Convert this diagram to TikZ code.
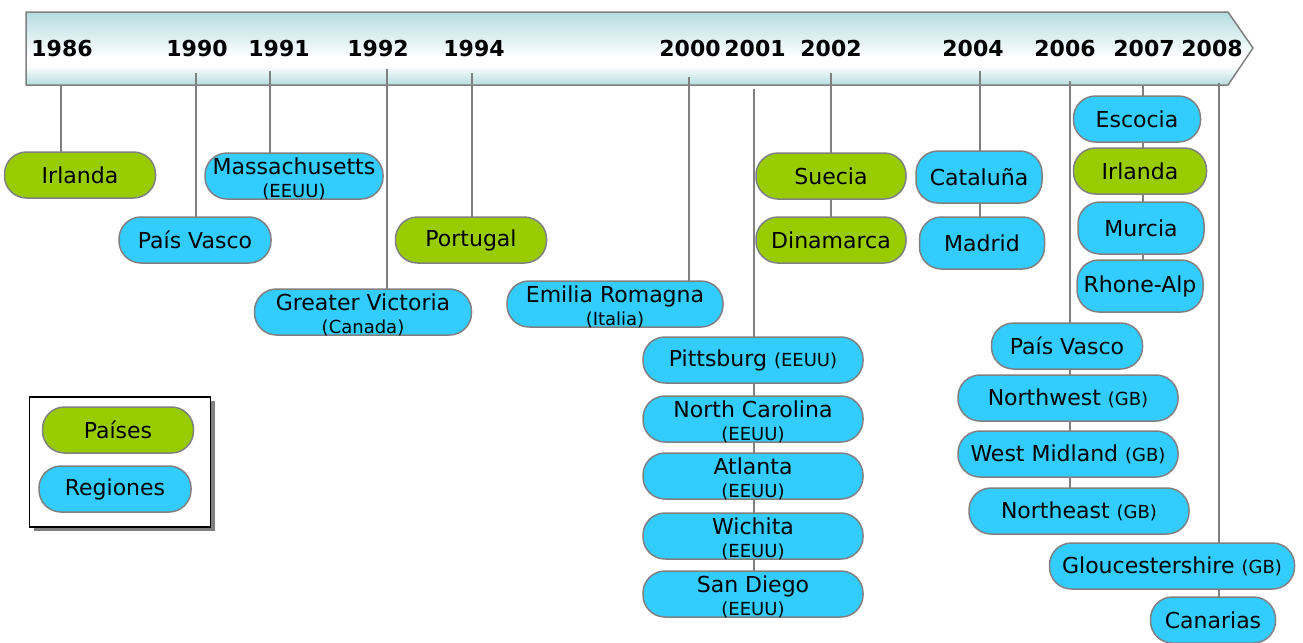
\documentclass[tikz,border=0pt]{standalone}
\usepackage{fontspec}
\setmainfont{DejaVu Sans}
\usetikzlibrary{shadows}
\pgfdeclarelayer{background}
\pgfsetlayers{background,main}
\definecolor{verdepais}{HTML}{99CC00}
\definecolor{azulregion}{HTML}{33CCFF}
\definecolor{gris}{HTML}{808080}
\definecolor{barteal}{HTML}{B5DCE0}
\pgfdeclareverticalshading{barshading}{100bp}{color(0bp)=(barteal); color(25bp)=(barteal); color(38bp)=(white); color(44bp)=(white); color(75bp)=(barteal); color(100bp)=(barteal)}
\newcommand{\pequeno}[1]{{\fontsize{9}{10}\selectfont #1}}

\begin{document}
\begin{tikzpicture}[x=0.5pt,y=-0.5pt,
    year/.style={font=\bfseries\fontsize{11}{13}\selectfont},
    caja/.style={rectangle, rounded corners=11pt, draw=gris, line width=0.75pt, minimum height=23pt, inner xsep=0pt, inner ysep=0pt, align=center, font=\fontsize{11}{12}\selectfont},
    pais/.style={caja, fill=verdepais},
    region/.style={caja, fill=azulregion},
    doble/.style={text height=21pt, text depth=0pt},
    ancho/.style={minimum width=#1*0.5pt},
    enlace/.style={draw=gris, line width=0.75pt}]
    \useasboundingbox (0,0) rectangle (1303,643);
    %\draw[very thin,color=gray] (0,0) grid[step=100] (1303,643);
    \begin{pgfonlayer}{background}
    \shade[shading=barshading, draw=gris, line width=0.75pt] (26,12) -- (1228,12) -- (1253,48) -- (1228,85) -- (26,85) -- cycle;
    \end{pgfonlayer}

    % years
    \node[year] (a1986) at (62,48) {1986};
    \node[year] (a1990) at (197,48) {1990};
    \node[year] (a1991) at (279,48) {1991};
    \node[year] (a1992) at (378,48) {1992};
    \node[year] (a1994) at (474,48) {1994};
    \node[year] (a2000) at (690,48) {2000};
    \node[year] (a2001) at (755,48) {2001};
    \node[year] (a2002) at (831,48) {2002};
    \node[year] (a2004) at (973,48) {2004};
    \node[year] (a2006) at (1065,48) {2006};
    \node[year] (a2007) at (1144,48) {2007};
    \node[year] (a2008) at (1212,48) {2008};

    \coordinate (l1986) at (61,85);
    \coordinate (l1990) at (196,73);
    \coordinate (l1991) at (270,71);
    \coordinate (l1992) at (387,69);
    \coordinate (l1994) at (472,73);
    \coordinate (l2000) at (689,77);
    \coordinate (l2001) at (754,89);
    \coordinate (l2002) at (831,73);
    \coordinate (l2004) at (980,71);
    \coordinate (l2006) at (1070,81);
    \coordinate (l2007) at (1143,86);
    \coordinate (l2008) at (1219,83);

    % boxes
    \node[pais, ancho=151] (irlanda86) at (80,175) {Irlanda};
    \node[region, ancho=152] (vasco90) at (195,240) {País Vasco};
    \node[region, doble, ancho=178] (massa) at (294,176) {Massachusetts\\[-0.5pt]\pequeno{(EEUU)}};
    \node[region, doble, ancho=217] (victoria) at (363,312) {Greater Victoria\\[-0.5pt]\pequeno{(Canada)}};
    \node[pais, ancho=151] (portugal) at (471,240) {Portugal};
    \node[region, doble, ancho=216] (emilia) at (615,304) {Emilia Romagna\\[-0.5pt]\pequeno{(Italia)}};

    \node[region, ancho=220] (pittsburg) at (753,360) {Pittsburg \pequeno{(EEUU)}};
    \node[region, doble, ancho=220] (ncarolina) at (753,419) {North Carolina\\[-0.5pt]\pequeno{(EEUU)}};
    \node[region, doble, ancho=220] (atlanta) at (753,476) {Atlanta\\[-0.5pt]\pequeno{(EEUU)}};
    \node[region, doble, ancho=220] (wichita) at (753,536) {Wichita\\[-0.5pt]\pequeno{(EEUU)}};
    \node[region, doble, ancho=220] (sandiego) at (753,594) {San Diego\\[-0.5pt]\pequeno{(EEUU)}};

    \node[pais, ancho=150] (suecia) at (831,176) {Suecia};
    \node[pais, ancho=150] (dinamarca) at (831,240) {Dinamarca};
    \node[region, ancho=126, minimum height=26pt] (cataluna) at (979,177) {Cataluña};
    \node[region, ancho=125, minimum height=26pt] (madrid) at (982,243) {Madrid};

    \node[region, ancho=127] (escocia) at (1137,119) {Escocia};
    \node[pais, ancho=133] (irlanda07) at (1140,171) {Irlanda};
    \node[region, ancho=126, minimum height=26pt] (murcia) at (1141,228) {Murcia};
    \node[region, ancho=126, minimum height=26pt] (rhone) at (1140,286) {Rhone-Alp};

    \node[region, ancho=151] (vasco06) at (1067,346) {País Vasco};
    \node[region, ancho=220] (northwest) at (1068,398) {Northwest \pequeno{(GB)}};
    \node[region, ancho=220] (westmid) at (1068,454) {West Midland \pequeno{(GB)}};
    \node[region, ancho=220] (northeast) at (1079,511) {Northeast \pequeno{(GB)}};
    \node[region, ancho=245] (glouc) at (1172,566) {Gloucestershire \pequeno{(GB)}};
    \node[region, ancho=125] (canarias) at (1213,620) {Canarias};

    % links
    \begin{pgfonlayer}{background}
    \draw[enlace] (l1986) -- (l1986 |- irlanda86);
    \draw[enlace] (l1990) -- (l1990 |- vasco90);
    \draw[enlace] (l1991) -- (l1991 |- massa);
    \draw[enlace] (l1992) -- (l1992 |- victoria);
    \draw[enlace] (l1994) -- (l1994 |- portugal);
    \draw[enlace] (l2000) -- (l2000 |- emilia);
    \draw[enlace] (l2001) -- (l2001 |- sandiego);
    \draw[enlace] (l2002) -- (l2002 |- dinamarca);
    \draw[enlace] (l2004) -- (l2004 |- madrid);
    \draw[enlace] (l2006) -- (l2006 |- northeast);
    \draw[enlace] (l2007) -- (l2007 |- rhone);
    \draw[enlace] (l2008) -- (l2008 |- canarias);
    \end{pgfonlayer}

    % legend
    \node[draw=black, line width=0.9pt, fill=white, minimum width=90.5pt, minimum height=65pt,
        drop shadow={shadow xshift=2pt, shadow yshift=-2pt, fill=gray, opacity=1}] (leyenda) at (120,462) {};
    \node[pais, ancho=151] (lpais) at (118,430) {Países};
    \node[region, ancho=152] (lregion) at (115,489) {Regiones};
\end{tikzpicture}
\end{document}
